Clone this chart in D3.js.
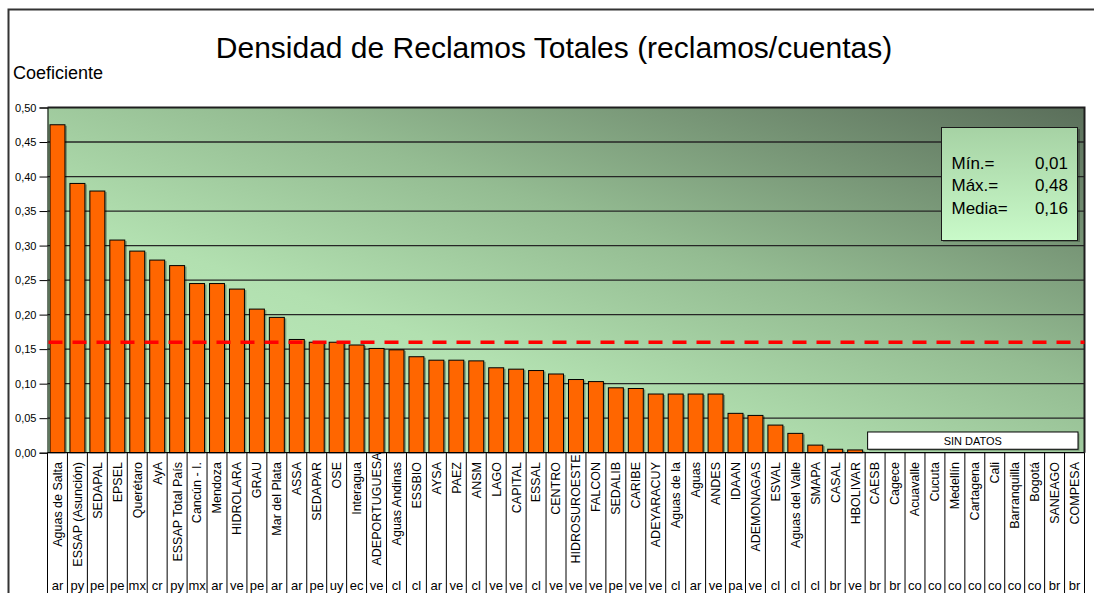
<!DOCTYPE html>
<html>
<head>
<meta charset="utf-8">
<script src="https://cdn.jsdelivr.net/npm/d3@7"></script>
<style>
  body { margin: 0; background: #fff; }
  svg { display: block; font-family: "Liberation Sans", Arial, sans-serif; }
</style>
</head>
<body>
<svg id="chart" width="1094" height="593"></svg>
<script>
// Datos del gráfico
const categorias = [
  "Aguas de Salta", "ESSAP (Asunción)", "SEDAPAL", "EPSEL", "Querétaro", "AyA",
  "ESSAP Total País", "Cancún - I.", "Mendoza", "HIDROLARA", "GRAU", "Mar del Plata",
  "ASSA", "SEDAPAR", "OSE", "Interagua", "ADEPORTUGUESA", "Aguas Andinas", "ESSBIO",
  "AYSA", "PAEZ", "ANSM", "LAGO", "CAPITAL", "ESSAL", "CENTRO", "HIDROSUROESTE",
  "FALCON", "SEDALIB", "CARIBE", "ADEYARACUY", "Aguas de la", "Aguas", "ANDES",
  "IDAAN", "ADEMONAGAS", "ESVAL", "Aguas del Valle", "SMAPA", "CASAL", "HBOLIVAR",
  "CAESB", "Cagece", "Acuavalle", "Cucuta", "Medellín", "Cartagena", "Cali",
  "Barranquilla", "Bogotá", "SANEAGO", "COMPESA"
];
const paises = [
  "ar", "py", "pe", "pe", "mx", "cr", "py", "mx", "ar", "ve", "pe", "ar",
  "ar", "pe", "uy", "ec", "ve", "cl", "cl", "ar", "ve", "cl", "ve", "ve", "cl", "ve", "ve",
  "ve", "pe", "ve", "ve", "cl", "ar", "ve", "pa", "ve", "cl", "cl", "cl", "br", "ve",
  "br", "br", "co", "co", "co", "co", "co", "co", "co", "br", "br"
];
// null = sin datos
const valores = [
  0.475, 0.390, 0.379, 0.308, 0.292, 0.279, 0.271, 0.245, 0.245, 0.237, 0.208, 0.196,
  0.164, 0.160, 0.160, 0.156, 0.151, 0.149, 0.139, 0.134, 0.134, 0.133, 0.123, 0.121,
  0.119, 0.114, 0.106, 0.103, 0.094, 0.093, 0.085, 0.085, 0.085, 0.085, 0.057, 0.054,
  0.040, 0.028, 0.011, 0.005, 0.004,
  null, null, null, null, null, null, null, null, null, null, null
];
const media = 0.16;
const yTicks = [0, 0.05, 0.10, 0.15, 0.20, 0.25, 0.30, 0.35, 0.40, 0.45, 0.50];
const statEtiquetas = ["Mín.=", "Máx.=", "Media="];
const statValores = ["0,01", "0,48", "0,16"];

const svg = d3.select("#chart");
const izq = 47.5, der = 1084.5, arriba = 107.5, abajo = 452.7;

const locale = d3.formatLocale({ decimal: ",", thousands: ".", grouping: [3], currency: ["", ""] });
const fmt = locale.format(".2f");

const x = d3.scaleBand()
  .domain(d3.range(categorias.length))
  .range([izq, der])
  .paddingInner(0.25)
  .paddingOuter(0.125);

const y = d3.scaleLinear().domain([0, 0.5]).range([abajo, arriba]);

// Marco exterior
svg.append("rect")
  .attr("x", 8.5).attr("y", 9.5).attr("width", 1100).attr("height", 600)
  .attr("fill", "#fff").attr("stroke", "#333").attr("stroke-width", 2);

// Degradado del fondo
const defs = svg.append("defs");
const grad = defs.append("linearGradient").attr("id", "fondo")
  .attr("x1", 0).attr("y1", 1).attr("x2", 1).attr("y2", 0);
grad.append("stop").attr("offset", 0).attr("stop-color", "#c2f2c2");
grad.append("stop").attr("offset", 0.35).attr("stop-color", "#b2e0b0");
grad.append("stop").attr("offset", 0.6).attr("stop-color", "#94bc92");
grad.append("stop").attr("offset", 1).attr("stop-color", "#5a6e5a");

const gradBox = defs.append("linearGradient").attr("id", "caja")
  .attr("x1", 0).attr("y1", 0).attr("x2", 0).attr("y2", 1);
gradBox.append("stop").attr("offset", 0).attr("stop-color", "#a6d2a4");
gradBox.append("stop").attr("offset", 1).attr("stop-color", "#c9fac9");

svg.append("rect")
  .attr("x", izq).attr("y", arriba)
  .attr("width", der - izq).attr("height", abajo - arriba)
  .attr("fill", "url(#fondo)");

// Líneas de división
svg.append("g")
  .selectAll("line")
  .data(yTicks.filter(d => d > 0 && d < 0.5))
  .join("line")
  .attr("x1", izq).attr("x2", der)
  .attr("y1", d => y(d)).attr("y2", d => y(d))
  .attr("stroke", "#262626").attr("stroke-width", 1.3);

// Borde superior y derecho del área
svg.append("path")
  .attr("d", `M${izq},${arriba}H${der}V${abajo}`)
  .attr("fill", "none").attr("stroke", "#1e1e1e").attr("stroke-width", 2);

// Eje Y
const yAxis = svg.append("g")
  .attr("transform", `translate(${izq},0)`)
  .call(d3.axisLeft(y).tickValues(yTicks).tickFormat(fmt).tickSize(8).tickPadding(3));
yAxis.select(".domain").attr("stroke", "#000");
yAxis.selectAll("text").attr("font-size", 11).attr("fill", "#000")
  .attr("font-family", "'Liberation Sans', Arial, sans-serif");

// Barras
const datos = valores.map((v, i) => ({ i, v })).filter(d => d.v !== null);
svg.append("g")
  .selectAll("rect")
  .data(datos)
  .join("rect")
  .attr("x", d => x(d.i) + 2)
  .attr("y", d => y(d.v) + 1)
  .attr("width", x.bandwidth())
  .attr("height", d => y(0) - y(d.v) - 1)
  .attr("fill", "rgba(0,0,0,0.3)");

svg.append("g")
  .selectAll("rect")
  .data(datos)
  .join("rect")
  .attr("x", d => x(d.i))
  .attr("y", d => y(d.v))
  .attr("width", x.bandwidth())
  .attr("height", d => y(0) - y(d.v))
  .attr("fill", "#ff6600")
  .attr("stroke", "#000")
  .attr("stroke-width", 1);

// Línea de la media
svg.append("line")
  .attr("x1", izq + 1).attr("x2", der)
  .attr("y1", y(media)).attr("y2", y(media))
  .attr("stroke", "#ff0000").attr("stroke-width", 3.5)
  .attr("stroke-dasharray", "14,10");

// Caja SIN DATOS
const sinDatos = valores.map((v, i) => i).filter(i => valores[i] === null);
const sx0 = x(sinDatos[0]), sx1 = x(sinDatos[sinDatos.length - 1]) + x.bandwidth() - 4;
svg.append("rect")
  .attr("x", sx0 + 1.5).attr("y", y(0.03) + 1.5)
  .attr("width", sx1 - sx0).attr("height", y(0.005) - y(0.03))
  .attr("fill", "rgba(0,0,0,0.25)");
svg.append("rect")
  .attr("x", sx0).attr("y", y(0.03))
  .attr("width", sx1 - sx0).attr("height", y(0.005) - y(0.03))
  .attr("fill", "#fff").attr("stroke", "#000").attr("stroke-width", 1);
svg.append("text")
  .attr("x", (sx0 + sx1) / 2).attr("y", (y(0.03) + y(0.005)) / 2 + 4)
  .attr("text-anchor", "middle").attr("font-size", 11)
  .text("SIN DATOS");

// Eje X: celdas con separadores
const paso = x.step();
svg.append("g")
  .selectAll("line")
  .data(d3.range(categorias.length + 1))
  .join("line")
  .attr("x1", i => izq + i * paso).attr("x2", i => izq + i * paso)
  .attr("y1", abajo).attr("y2", 593)
  .attr("stroke", "#000").attr("stroke-width", 1);

svg.append("line")
  .attr("x1", izq).attr("x2", der)
  .attr("y1", abajo).attr("y2", abajo)
  .attr("stroke", "#000").attr("stroke-width", 1.2);

const etiquetas = svg.append("g")
  .selectAll("text")
  .data(categorias)
  .join("text")
  .attr("font-size", 12.5)
  .attr("dy", "0.35em")
  .text(d => d);
etiquetas.each(function(d, i) {
  const t = d3.select(this);
  const len = this.getComputedTextLength();
  const cx = x(i) + x.bandwidth() / 2;
  let yEnd = 462;
  if (len > 106) yEnd = 509 - len / 2;
  t.attr("text-anchor", "start")
    .attr("transform", `translate(${cx},${yEnd + len}) rotate(-90)`);
});

svg.append("g")
  .selectAll("text")
  .data(paises)
  .join("text")
  .attr("x", (d, i) => x(i) + x.bandwidth() / 2)
  .attr("y", 590)
  .attr("text-anchor", "middle")
  .attr("font-size", 13)
  .text(d => d);

// Títulos
svg.append("text")
  .attr("x", 554).attr("y", 58)
  .attr("text-anchor", "middle").attr("font-size", 30)
  .text("Densidad de Reclamos Totales (reclamos/cuentas)");

svg.append("text")
  .attr("x", 13).attr("y", 79)
  .attr("font-size", 18)
  .text("Coeficiente");

// Caja de estadísticas
svg.append("rect")
  .attr("x", 943).attr("y", 129).attr("width", 137).attr("height", 113)
  .attr("fill", "rgba(0,0,0,0.25)");
svg.append("rect")
  .attr("x", 941.5).attr("y", 127.5).attr("width", 136).attr("height", 113)
  .attr("fill", "url(#caja)").attr("stroke", "#1a1a1a").attr("stroke-width", 1);

const stats = svg.append("g").attr("font-size", 17);
stats.selectAll("text.et")
  .data(statEtiquetas)
  .join("text").attr("class", "et")
  .attr("x", 951.5).attr("y", (d, i) => 169 + i * 22.3)
  .text(d => d);
stats.selectAll("text.va")
  .data(statValores)
  .join("text").attr("class", "va")
  .attr("x", 1068).attr("y", (d, i) => 169 + i * 22.3)
  .attr("text-anchor", "end")
  .text(d => d);
</script>
</body>
</html>
